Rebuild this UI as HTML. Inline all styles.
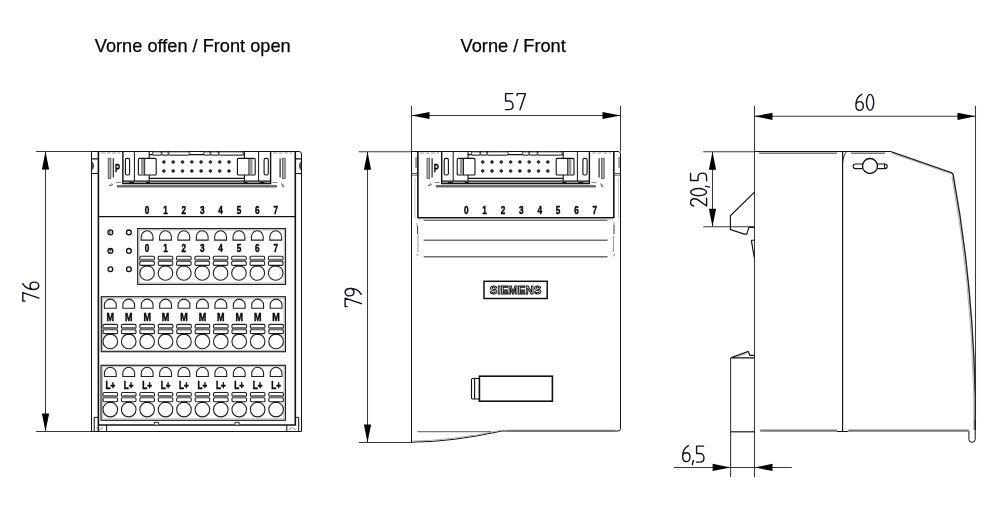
<!DOCTYPE html>
<html><head><meta charset="utf-8"><style>
html,body{margin:0;padding:0;background:#fff;width:1000px;height:524px;overflow:hidden}
svg{display:block;will-change:transform}
text{font-family:"Liberation Sans",sans-serif}
</style></head><body>
<svg width="1000" height="524" viewBox="0 0 1000 524">
<defs>
<path id="g5" d="M7.6,0.6 H0.6 V8 H3.8 C6.2,8 8,9.9 8,12.4 C8,15 6.2,16.6 3.8,16.6 H0.4"/>
<path id="g7" d="M0.6,2.6 V0.6 H9 L3.5,16.8"/>
<path id="g6" d="M6.4,0.6 C3,2.5 0.6,6 0.6,11 C0.6,14.5 2.2,16.6 4.3,16.6 C6.5,16.6 8,14.6 8,12.2 C8,9.6 6.5,7.8 4.3,7.8 C2.5,7.8 1.2,8.8 0.6,10.5"/>
<ellipse id="g0" cx="4.1" cy="8.6" rx="3.6" ry="8"/>
<path id="g9" d="M1.6,16.6 C5,14.7 7.4,11.2 7.4,6.2 C7.4,2.7 5.8,0.6 3.7,0.6 C1.5,0.6 0,2.6 0,5 C0,7.6 1.5,9.4 3.7,9.4 C5.5,9.4 6.8,8.4 7.4,6.7"/>
<path id="g2" d="M0.6,3.5 C1.2,1.6 2.5,0.6 4.2,0.6 C6.3,0.6 7.8,2.2 7.8,4.6 C7.8,6.6 7,8 5.5,9.8 L0.6,16.6 H8.4"/>
<path id="gc" d="M1.9,15.5 L0.9,19.5"/>
<path id="arr" d="M0,0 L18,-3.6 L18,3.6 Z"/>
<linearGradient id="bar" x1="0" y1="0" x2="0" y2="1">
 <stop offset="0" stop-color="#fff"/><stop offset="0.35" stop-color="#ddd"/><stop offset="0.5" stop-color="#666"/><stop offset="0.65" stop-color="#ddd"/><stop offset="1" stop-color="#fff"/>
</linearGradient>
</defs>

<text x="94.8" y="52" font-size="18.2" fill="#000" stroke="#000" stroke-width="0.25">Vorne offen / Front open</text>
<text x="460.6" y="51.8" font-size="18.2" fill="#000" stroke="#000" stroke-width="0.25">Vorne / Front</text>

<g fill="none" stroke="#111122" stroke-width="1.4" stroke-linecap="round" stroke-linejoin="round">
  <use href="#g5" x="505" y="93"/><use href="#g7" x="516.5" y="93"/>
  <use href="#g6" x="855.3" y="93.8"/><use href="#g0" x="866" y="93.8"/>
  <use href="#g6" x="682" y="445"/><use href="#gc" x="691.5" y="445"/><use href="#g5" x="696" y="445.5"/>
  <g transform="translate(344.5,307.2) rotate(-90)"><use href="#g7" x="0" y="0"/><use href="#g9" x="11.3" y="0"/></g>
  <g transform="translate(22.2,301.6) rotate(-90)"><use href="#g7" x="0" y="0"/><use href="#g6" x="11.5" y="0"/></g>
  <g transform="translate(690,206.6) rotate(-90)"><use href="#g2" x="0" y="0"/><use href="#g0" x="10.4" y="0"/><use href="#gc" x="18.6" y="0"/><use href="#g5" x="25.5" y="0"/></g>
</g>

<g stroke="#3a3a3a" stroke-width="1.05" fill="none">
  <path d="M36,151.5 H92 M36,431.5 H92 M45.5,151.5 V431.5"/>
  <path d="M358.8,151.8 H412 M358.8,442.4 H412 M367.5,151.8 V442.4"/>
  <path d="M411.5,106 V151.5 M620.5,106 V151.5 M411.5,115.5 H620.5"/>
  <path d="M754.5,106 V477 M975.5,106 V420 M754.5,116.3 H975.5"/>
  <path d="M703.3,151.8 H754.5 M703.3,226.8 H754.5 M712.5,151.8 V226.8"/>
  <path d="M674,467.4 H791.8 M730.6,357.9 V477"/>
</g>
<g fill="#000">
  <use href="#arr" transform="translate(45.5,151.5) rotate(90)"/>
  <use href="#arr" transform="translate(45.5,431.5) rotate(-90)"/>
  <use href="#arr" transform="translate(367.5,151.8) rotate(90)"/>
  <use href="#arr" transform="translate(367.5,442.4) rotate(-90)"/>
  <use href="#arr" transform="translate(411.5,115.5)"/>
  <use href="#arr" transform="translate(620.5,115.5) rotate(180)"/>
  <use href="#arr" transform="translate(754.5,116.3)"/>
  <use href="#arr" transform="translate(975.5,116.3) rotate(180)"/>
  <use href="#arr" transform="translate(712.5,151.8) rotate(90)"/>
  <use href="#arr" transform="translate(712.5,226.8) rotate(-90)"/>
  <use href="#arr" transform="translate(730.6,467.4) rotate(180)"/>
  <use href="#arr" transform="translate(754.5,467.4)"/>
</g>

<g id="leftview">
<g fill="none" stroke="#111" stroke-width="1">
<path d="M91.5,151.5 H299 Q301.5,151.5 301.5,154 V431.5 H91.5 Z"/>
<path d="M98.4,151.5 V431" stroke-width="1.6"/>
<path d="M295.3,151.5 V425.5" stroke-width="1.6"/>
<path d="M98.4,216.6 H295.3" stroke-width="1.3"/>
<path d="M91.5,158.8 H98.4 M91.5,173.5 H98.4 M295.3,158.8 H301.5 M295.3,173.5 H301.5" stroke-width="1.2"/>
<path d="M91.5,161.2 Q95.5,166 91.5,170.6 Z M301.5,161.2 Q297.5,166 301.5,170.6 Z" fill="#555" stroke-width="0.8"/>
<path d="M98.4,425.1 H295.3" stroke-width="1.5"/>
<path d="M94.2,417.4 H98.4 M94.2,417.4 V431.5 M106.6,425.1 V431.5 M298.7,417.4 H295.3 M298.7,417.4 V431.5 M286.8,425.1 V431.5"/>
<path d="M96,428.5 L99,426.5 M100.5,430 L103,427 M289,430 L292,427 M293,428 L296,430" stroke="#777" stroke-width="0.8"/>
<path d="M154.4,424.4 V422.3 H158.6 V424.4 M235,424.4 V422.3 H239.2 V424.4" stroke-width="0.9" fill="#fff"/>
</g>
<g fill="none" stroke="#111" stroke-width="1.1">
<path d="M122.9,151.5 V183.5 H270.6 V151.5" stroke-width="1.4"/>
<path d="M122.9,181.1 H270.6" stroke-width="1.3"/>
<path d="M123.5,182.5 H270" stroke="#999" stroke-width="1"/>
<path d="M129,182.5 H134 M146,182.5 H150 M243.5,182.5 H247.5 M259.5,182.5 H264.5" stroke="#111" stroke-width="1.1"/>
<path d="M134.4,151.5 V181.1 M258.6,151.5 V181.1" stroke-width="1"/>
<rect x="125.4" y="158.4" width="4.2" height="16.6" rx="1.5"/>
<rect x="264.1" y="158.4" width="4.2" height="16.6" rx="1.5"/>
<path d="M149.2,151.5 V154.6 H244.4 V151.5 M149.2,154.6 V158.4 M244.4,154.6 V158.4 M149.2,175 V178.4 H244.4 V175 M149.2,178.4 V181.1 M244.4,178.4 V181.1"/>
<rect x="138.4" y="158.4" width="17.8" height="16.6" rx="1"/>
<rect x="237.4" y="158.4" width="17.8" height="16.6" rx="1"/>
<path d="M144.6,158.4 V175 M249,158.4 V175"/>
</g>
<g fill="#999"><rect x="141" y="159" width="3.3" height="15.4"/><rect x="249.3" y="159" width="3.3" height="15.4"/></g>
<g fill="#fff" stroke="#222" stroke-width="1">
<rect x="152.5" y="151.8" width="9" height="3.3" rx="1.6"/>
<rect x="161.5" y="151.8" width="6.9" height="3.3" rx="1.6"/>
<rect x="168.4" y="151.8" width="21.1" height="3.3" rx="1.6"/>
<rect x="203.6" y="151.8" width="6.8" height="3.3" rx="1.6"/>
<rect x="210.4" y="151.8" width="8.3" height="3.3" rx="1.6"/>
<rect x="218.7" y="151.8" width="24.7" height="3.3" rx="1.6"/>
</g>
<g fill="#444" stroke="#111" stroke-width="1">
<rect x="162.7" y="160.8" width="2.4" height="2.4" rx="0.9"/>
<rect x="162.7" y="169.8" width="2.4" height="2.4" rx="0.9"/>
<rect x="172" y="160.8" width="2.4" height="2.4" rx="0.9"/>
<rect x="172" y="169.8" width="2.4" height="2.4" rx="0.9"/>
<rect x="181.3" y="160.8" width="2.4" height="2.4" rx="0.9"/>
<rect x="181.3" y="169.8" width="2.4" height="2.4" rx="0.9"/>
<rect x="190.6" y="160.8" width="2.4" height="2.4" rx="0.9"/>
<rect x="190.6" y="169.8" width="2.4" height="2.4" rx="0.9"/>
<rect x="199.9" y="160.8" width="2.4" height="2.4" rx="0.9"/>
<rect x="199.9" y="169.8" width="2.4" height="2.4" rx="0.9"/>
<rect x="209.2" y="160.8" width="2.4" height="2.4" rx="0.9"/>
<rect x="209.2" y="169.8" width="2.4" height="2.4" rx="0.9"/>
<rect x="218.5" y="160.8" width="2.4" height="2.4" rx="0.9"/>
<rect x="218.5" y="169.8" width="2.4" height="2.4" rx="0.9"/>
<rect x="227.8" y="160.8" width="2.4" height="2.4" rx="0.9"/>
<rect x="227.8" y="169.8" width="2.4" height="2.4" rx="0.9"/>
</g>
<path d="M117,186.3 H277" stroke="#6a6a6a" stroke-width="2.4" fill="none"/>
<g transform="translate(0,0)">
<rect x="108.2" y="158.3" width="2.7" height="20.2" fill="#aaa" stroke="#555" stroke-width="0.8"/>
<path d="M113.3,158.3 V177.5 M280.1,158.3 V177.5" stroke="#111" stroke-width="1.1" fill="none"/>
<rect x="282.5" y="158.3" width="2.7" height="20.2" fill="#aaa" stroke="#555" stroke-width="0.8"/>
<path d="M101.2,153 H120.2 M273.2,153 H292.2" stroke="#999" stroke-width="1" stroke-dasharray="4,1.5" fill="none"/>
<path d="M115.9,182.5 H120.9 M272.5,182.5 H277.5" stroke="#888" stroke-width="1" fill="none"/>
<path d="M109.2,186 l2.5,-2.5 l1.2,1.2 z M281.7,183.5 l2.5,2.5 l-1.2,1.2 z" stroke="#555" stroke-width="0.8" fill="none"/>
<g transform="translate(114.9,172.4) scale(0.72,1)"><text x="0" y="0" font-size="10.5" font-weight="bold" fill="#000" stroke="#000" stroke-width="0.4">P</text></g>
</g>
<g font-size="10" font-weight="bold" fill="#000" stroke="#000" stroke-width="0.4" text-anchor="middle">
<text transform="translate(147.1,213.8) scale(0.82,1)">0</text>
<text transform="translate(165.47,213.8) scale(0.82,1)">1</text>
<text transform="translate(183.84,213.8) scale(0.82,1)">2</text>
<text transform="translate(202.21,213.8) scale(0.82,1)">3</text>
<text transform="translate(220.58,213.8) scale(0.82,1)">4</text>
<text transform="translate(238.95,213.8) scale(0.82,1)">5</text>
<text transform="translate(257.32,213.8) scale(0.82,1)">6</text>
<text transform="translate(275.69,213.8) scale(0.82,1)">7</text>
</g>
<g fill="#fff" stroke="#111" stroke-width="1.3">
<circle cx="110.4" cy="232.4" r="2.4"/>
<circle cx="110.4" cy="250.9" r="2.4"/>
<circle cx="110.4" cy="269.2" r="2.4"/>
<circle cx="128.9" cy="232.4" r="2.4"/>
<circle cx="128.9" cy="250.9" r="2.4"/>
<circle cx="128.9" cy="269.2" r="2.4"/>
</g>
<circle cx="110.4" cy="232.4" r="1.8" fill="#888"/>
<path d="M111.3,230.8 V234" stroke="#fff" stroke-width="0.7"/>
<path d="M110.4,250.9 L108.4,249.6 A2.2,2.2 0 0 1 112.2,250 Z M110.4,250.9 L108.6,252.4 A2.2,2.2 0 0 0 110.2,253.1 Z" fill="#333"/>
<rect x="137.7" y="228.6" width="147.8" height="55.8" fill="none" stroke="#222" stroke-width="1.2"/>
<rect x="139.1" y="230" width="145" height="53" fill="none" stroke="#aaa" stroke-width="0.8"/>
<g fill="none" stroke="#222" stroke-width="1.1">
<path d="M141.2,240.1 V236.7 A5.9,5.9 0 0 1 153,236.7 V240.1 Z"/>
<rect x="139.8" y="256.2" width="14.6" height="4" rx="1.2"/>
<rect x="139.8" y="261.4" width="14.6" height="4" rx="1.2"/>
<circle cx="147.1" cy="273" r="7.3"/>
<path d="M159.57,240.1 V236.7 A5.9,5.9 0 0 1 171.37,236.7 V240.1 Z"/>
<rect x="158.17" y="256.2" width="14.6" height="4" rx="1.2"/>
<rect x="158.17" y="261.4" width="14.6" height="4" rx="1.2"/>
<circle cx="165.47" cy="273" r="7.3"/>
<path d="M177.94,240.1 V236.7 A5.9,5.9 0 0 1 189.74,236.7 V240.1 Z"/>
<rect x="176.54" y="256.2" width="14.6" height="4" rx="1.2"/>
<rect x="176.54" y="261.4" width="14.6" height="4" rx="1.2"/>
<circle cx="183.84" cy="273" r="7.3"/>
<path d="M196.31,240.1 V236.7 A5.9,5.9 0 0 1 208.11,236.7 V240.1 Z"/>
<rect x="194.91" y="256.2" width="14.6" height="4" rx="1.2"/>
<rect x="194.91" y="261.4" width="14.6" height="4" rx="1.2"/>
<circle cx="202.21" cy="273" r="7.3"/>
<path d="M214.68,240.1 V236.7 A5.9,5.9 0 0 1 226.48,236.7 V240.1 Z"/>
<rect x="213.28" y="256.2" width="14.6" height="4" rx="1.2"/>
<rect x="213.28" y="261.4" width="14.6" height="4" rx="1.2"/>
<circle cx="220.58" cy="273" r="7.3"/>
<path d="M233.05,240.1 V236.7 A5.9,5.9 0 0 1 244.85,236.7 V240.1 Z"/>
<rect x="231.65" y="256.2" width="14.6" height="4" rx="1.2"/>
<rect x="231.65" y="261.4" width="14.6" height="4" rx="1.2"/>
<circle cx="238.95" cy="273" r="7.3"/>
<path d="M251.42,240.1 V236.7 A5.9,5.9 0 0 1 263.22,236.7 V240.1 Z"/>
<rect x="250.02" y="256.2" width="14.6" height="4" rx="1.2"/>
<rect x="250.02" y="261.4" width="14.6" height="4" rx="1.2"/>
<circle cx="257.32" cy="273" r="7.3"/>
<path d="M269.79,240.1 V236.7 A5.9,5.9 0 0 1 281.59,236.7 V240.1 Z"/>
<rect x="268.39" y="256.2" width="14.6" height="4" rx="1.2"/>
<rect x="268.39" y="261.4" width="14.6" height="4" rx="1.2"/>
<circle cx="275.69" cy="273" r="7.3"/>
</g>
<g fill="#6e6e6e">
<rect x="140.6" y="258.7" width="13" height="3" rx="0.8"/>
<rect x="144.1" y="265.3" width="6" height="1.2" fill="#111"/>
<rect x="158.97" y="258.7" width="13" height="3" rx="0.8"/>
<rect x="162.47" y="265.3" width="6" height="1.2" fill="#111"/>
<rect x="177.34" y="258.7" width="13" height="3" rx="0.8"/>
<rect x="180.84" y="265.3" width="6" height="1.2" fill="#111"/>
<rect x="195.71" y="258.7" width="13" height="3" rx="0.8"/>
<rect x="199.21" y="265.3" width="6" height="1.2" fill="#111"/>
<rect x="214.08" y="258.7" width="13" height="3" rx="0.8"/>
<rect x="217.58" y="265.3" width="6" height="1.2" fill="#111"/>
<rect x="232.45" y="258.7" width="13" height="3" rx="0.8"/>
<rect x="235.95" y="265.3" width="6" height="1.2" fill="#111"/>
<rect x="250.82" y="258.7" width="13" height="3" rx="0.8"/>
<rect x="254.32" y="265.3" width="6" height="1.2" fill="#111"/>
<rect x="269.19" y="258.7" width="13" height="3" rx="0.8"/>
<rect x="272.69" y="265.3" width="6" height="1.2" fill="#111"/>
</g>
<g font-size="10" font-weight="bold" fill="#000" stroke="#000" stroke-width="0.4" text-anchor="middle">
<text transform="translate(147.1,252.2) scale(0.82,1)">0</text>
<text transform="translate(165.47,252.2) scale(0.82,1)">1</text>
<text transform="translate(183.84,252.2) scale(0.82,1)">2</text>
<text transform="translate(202.21,252.2) scale(0.82,1)">3</text>
<text transform="translate(220.58,252.2) scale(0.82,1)">4</text>
<text transform="translate(238.95,252.2) scale(0.82,1)">5</text>
<text transform="translate(257.32,252.2) scale(0.82,1)">6</text>
<text transform="translate(275.69,252.2) scale(0.82,1)">7</text>
</g>
<rect x="101.3" y="296.7" width="184.1" height="55" fill="none" stroke="#222" stroke-width="1.2"/>
<rect x="102.7" y="298.1" width="181.3" height="52.2" fill="none" stroke="#aaa" stroke-width="0.8"/>
<g fill="none" stroke="#222" stroke-width="1.1">
<path d="M104.4,308.3 V305 A5.9,5.9 0 0 1 116.2,305 V308.3 Z"/>
<rect x="103" y="324.4" width="14.6" height="4" rx="1.2"/>
<rect x="103" y="329.6" width="14.6" height="4" rx="1.2"/>
<circle cx="110.3" cy="341.4" r="7.3"/>
<path d="M122.82,308.3 V305 A5.9,5.9 0 0 1 134.62,305 V308.3 Z"/>
<rect x="121.42" y="324.4" width="14.6" height="4" rx="1.2"/>
<rect x="121.42" y="329.6" width="14.6" height="4" rx="1.2"/>
<circle cx="128.72" cy="341.4" r="7.3"/>
<path d="M141.24,308.3 V305 A5.9,5.9 0 0 1 153.04,305 V308.3 Z"/>
<rect x="139.84" y="324.4" width="14.6" height="4" rx="1.2"/>
<rect x="139.84" y="329.6" width="14.6" height="4" rx="1.2"/>
<circle cx="147.14" cy="341.4" r="7.3"/>
<path d="M159.66,308.3 V305 A5.9,5.9 0 0 1 171.46,305 V308.3 Z"/>
<rect x="158.26" y="324.4" width="14.6" height="4" rx="1.2"/>
<rect x="158.26" y="329.6" width="14.6" height="4" rx="1.2"/>
<circle cx="165.56" cy="341.4" r="7.3"/>
<path d="M178.08,308.3 V305 A5.9,5.9 0 0 1 189.88,305 V308.3 Z"/>
<rect x="176.68" y="324.4" width="14.6" height="4" rx="1.2"/>
<rect x="176.68" y="329.6" width="14.6" height="4" rx="1.2"/>
<circle cx="183.98" cy="341.4" r="7.3"/>
<path d="M196.5,308.3 V305 A5.9,5.9 0 0 1 208.3,305 V308.3 Z"/>
<rect x="195.1" y="324.4" width="14.6" height="4" rx="1.2"/>
<rect x="195.1" y="329.6" width="14.6" height="4" rx="1.2"/>
<circle cx="202.4" cy="341.4" r="7.3"/>
<path d="M214.92,308.3 V305 A5.9,5.9 0 0 1 226.72,305 V308.3 Z"/>
<rect x="213.52" y="324.4" width="14.6" height="4" rx="1.2"/>
<rect x="213.52" y="329.6" width="14.6" height="4" rx="1.2"/>
<circle cx="220.82" cy="341.4" r="7.3"/>
<path d="M233.34,308.3 V305 A5.9,5.9 0 0 1 245.14,305 V308.3 Z"/>
<rect x="231.94" y="324.4" width="14.6" height="4" rx="1.2"/>
<rect x="231.94" y="329.6" width="14.6" height="4" rx="1.2"/>
<circle cx="239.24" cy="341.4" r="7.3"/>
<path d="M251.76,308.3 V305 A5.9,5.9 0 0 1 263.56,305 V308.3 Z"/>
<rect x="250.36" y="324.4" width="14.6" height="4" rx="1.2"/>
<rect x="250.36" y="329.6" width="14.6" height="4" rx="1.2"/>
<circle cx="257.66" cy="341.4" r="7.3"/>
<path d="M270.18,308.3 V305 A5.9,5.9 0 0 1 281.98,305 V308.3 Z"/>
<rect x="268.78" y="324.4" width="14.6" height="4" rx="1.2"/>
<rect x="268.78" y="329.6" width="14.6" height="4" rx="1.2"/>
<circle cx="276.08" cy="341.4" r="7.3"/>
</g>
<g fill="#6e6e6e">
<rect x="103.8" y="326.9" width="13" height="3" rx="0.8"/>
<rect x="107.3" y="333.5" width="6" height="1.2" fill="#111"/>
<rect x="122.22" y="326.9" width="13" height="3" rx="0.8"/>
<rect x="125.72" y="333.5" width="6" height="1.2" fill="#111"/>
<rect x="140.64" y="326.9" width="13" height="3" rx="0.8"/>
<rect x="144.14" y="333.5" width="6" height="1.2" fill="#111"/>
<rect x="159.06" y="326.9" width="13" height="3" rx="0.8"/>
<rect x="162.56" y="333.5" width="6" height="1.2" fill="#111"/>
<rect x="177.48" y="326.9" width="13" height="3" rx="0.8"/>
<rect x="180.98" y="333.5" width="6" height="1.2" fill="#111"/>
<rect x="195.9" y="326.9" width="13" height="3" rx="0.8"/>
<rect x="199.4" y="333.5" width="6" height="1.2" fill="#111"/>
<rect x="214.32" y="326.9" width="13" height="3" rx="0.8"/>
<rect x="217.82" y="333.5" width="6" height="1.2" fill="#111"/>
<rect x="232.74" y="326.9" width="13" height="3" rx="0.8"/>
<rect x="236.24" y="333.5" width="6" height="1.2" fill="#111"/>
<rect x="251.16" y="326.9" width="13" height="3" rx="0.8"/>
<rect x="254.66" y="333.5" width="6" height="1.2" fill="#111"/>
<rect x="269.58" y="326.9" width="13" height="3" rx="0.8"/>
<rect x="273.08" y="333.5" width="6" height="1.2" fill="#111"/>
</g>
<g font-size="10" font-weight="bold" fill="#000" stroke="#000" stroke-width="0.4" text-anchor="middle">
<text transform="translate(110.3,321) scale(0.9,1)">M</text>
<text transform="translate(128.72,321) scale(0.9,1)">M</text>
<text transform="translate(147.14,321) scale(0.9,1)">M</text>
<text transform="translate(165.56,321) scale(0.9,1)">M</text>
<text transform="translate(183.98,321) scale(0.9,1)">M</text>
<text transform="translate(202.4,321) scale(0.9,1)">M</text>
<text transform="translate(220.82,321) scale(0.9,1)">M</text>
<text transform="translate(239.24,321) scale(0.9,1)">M</text>
<text transform="translate(257.66,321) scale(0.9,1)">M</text>
<text transform="translate(276.08,321) scale(0.9,1)">M</text>
</g>
<rect x="101" y="365.3" width="184.4" height="55" fill="none" stroke="#222" stroke-width="1.2"/>
<rect x="102.4" y="366.7" width="181.6" height="52.2" fill="none" stroke="#aaa" stroke-width="0.8"/>
<g fill="none" stroke="#222" stroke-width="1.1">
<path d="M104.4,376.5 V373.2 A5.9,5.9 0 0 1 116.2,373.2 V376.5 Z"/>
<rect x="103" y="392.5" width="14.6" height="4" rx="1.2"/>
<rect x="103" y="397.7" width="14.6" height="4" rx="1.2"/>
<circle cx="110.3" cy="409.6" r="7.3"/>
<path d="M122.82,376.5 V373.2 A5.9,5.9 0 0 1 134.62,373.2 V376.5 Z"/>
<rect x="121.42" y="392.5" width="14.6" height="4" rx="1.2"/>
<rect x="121.42" y="397.7" width="14.6" height="4" rx="1.2"/>
<circle cx="128.72" cy="409.6" r="7.3"/>
<path d="M141.24,376.5 V373.2 A5.9,5.9 0 0 1 153.04,373.2 V376.5 Z"/>
<rect x="139.84" y="392.5" width="14.6" height="4" rx="1.2"/>
<rect x="139.84" y="397.7" width="14.6" height="4" rx="1.2"/>
<circle cx="147.14" cy="409.6" r="7.3"/>
<path d="M159.66,376.5 V373.2 A5.9,5.9 0 0 1 171.46,373.2 V376.5 Z"/>
<rect x="158.26" y="392.5" width="14.6" height="4" rx="1.2"/>
<rect x="158.26" y="397.7" width="14.6" height="4" rx="1.2"/>
<circle cx="165.56" cy="409.6" r="7.3"/>
<path d="M178.08,376.5 V373.2 A5.9,5.9 0 0 1 189.88,373.2 V376.5 Z"/>
<rect x="176.68" y="392.5" width="14.6" height="4" rx="1.2"/>
<rect x="176.68" y="397.7" width="14.6" height="4" rx="1.2"/>
<circle cx="183.98" cy="409.6" r="7.3"/>
<path d="M196.5,376.5 V373.2 A5.9,5.9 0 0 1 208.3,373.2 V376.5 Z"/>
<rect x="195.1" y="392.5" width="14.6" height="4" rx="1.2"/>
<rect x="195.1" y="397.7" width="14.6" height="4" rx="1.2"/>
<circle cx="202.4" cy="409.6" r="7.3"/>
<path d="M214.92,376.5 V373.2 A5.9,5.9 0 0 1 226.72,373.2 V376.5 Z"/>
<rect x="213.52" y="392.5" width="14.6" height="4" rx="1.2"/>
<rect x="213.52" y="397.7" width="14.6" height="4" rx="1.2"/>
<circle cx="220.82" cy="409.6" r="7.3"/>
<path d="M233.34,376.5 V373.2 A5.9,5.9 0 0 1 245.14,373.2 V376.5 Z"/>
<rect x="231.94" y="392.5" width="14.6" height="4" rx="1.2"/>
<rect x="231.94" y="397.7" width="14.6" height="4" rx="1.2"/>
<circle cx="239.24" cy="409.6" r="7.3"/>
<path d="M251.76,376.5 V373.2 A5.9,5.9 0 0 1 263.56,373.2 V376.5 Z"/>
<rect x="250.36" y="392.5" width="14.6" height="4" rx="1.2"/>
<rect x="250.36" y="397.7" width="14.6" height="4" rx="1.2"/>
<circle cx="257.66" cy="409.6" r="7.3"/>
<path d="M270.18,376.5 V373.2 A5.9,5.9 0 0 1 281.98,373.2 V376.5 Z"/>
<rect x="268.78" y="392.5" width="14.6" height="4" rx="1.2"/>
<rect x="268.78" y="397.7" width="14.6" height="4" rx="1.2"/>
<circle cx="276.08" cy="409.6" r="7.3"/>
</g>
<g fill="#6e6e6e">
<rect x="103.8" y="395" width="13" height="3" rx="0.8"/>
<rect x="107.3" y="401.6" width="6" height="1.2" fill="#111"/>
<rect x="122.22" y="395" width="13" height="3" rx="0.8"/>
<rect x="125.72" y="401.6" width="6" height="1.2" fill="#111"/>
<rect x="140.64" y="395" width="13" height="3" rx="0.8"/>
<rect x="144.14" y="401.6" width="6" height="1.2" fill="#111"/>
<rect x="159.06" y="395" width="13" height="3" rx="0.8"/>
<rect x="162.56" y="401.6" width="6" height="1.2" fill="#111"/>
<rect x="177.48" y="395" width="13" height="3" rx="0.8"/>
<rect x="180.98" y="401.6" width="6" height="1.2" fill="#111"/>
<rect x="195.9" y="395" width="13" height="3" rx="0.8"/>
<rect x="199.4" y="401.6" width="6" height="1.2" fill="#111"/>
<rect x="214.32" y="395" width="13" height="3" rx="0.8"/>
<rect x="217.82" y="401.6" width="6" height="1.2" fill="#111"/>
<rect x="232.74" y="395" width="13" height="3" rx="0.8"/>
<rect x="236.24" y="401.6" width="6" height="1.2" fill="#111"/>
<rect x="251.16" y="395" width="13" height="3" rx="0.8"/>
<rect x="254.66" y="401.6" width="6" height="1.2" fill="#111"/>
<rect x="269.58" y="395" width="13" height="3" rx="0.8"/>
<rect x="273.08" y="401.6" width="6" height="1.2" fill="#111"/>
</g>
<g font-size="10" font-weight="bold" fill="#000" stroke="#000" stroke-width="0.4" text-anchor="middle">
<text transform="translate(110.3,388.7) scale(0.82,1)">L+</text>
<text transform="translate(128.72,388.7) scale(0.82,1)">L+</text>
<text transform="translate(147.14,388.7) scale(0.82,1)">L+</text>
<text transform="translate(165.56,388.7) scale(0.82,1)">L+</text>
<text transform="translate(183.98,388.7) scale(0.82,1)">L+</text>
<text transform="translate(202.4,388.7) scale(0.82,1)">L+</text>
<text transform="translate(220.82,388.7) scale(0.82,1)">L+</text>
<text transform="translate(239.24,388.7) scale(0.82,1)">L+</text>
<text transform="translate(257.66,388.7) scale(0.82,1)">L+</text>
<text transform="translate(276.08,388.7) scale(0.82,1)">L+</text>
</g>
</g>
<g id="midview">
<g fill="none" stroke="#111" stroke-width="1">
<path d="M411.5,151.5 V442.4 M411.5,151.5 H618 Q620.5,151.5 620.5,154 V428.5 Q620.5,431 618,431 H614 M502,431 H508"/>
<path d="M417.9,151.5 V218" stroke-width="1.6"/>
<path d="M613.8,151.5 V218" stroke-width="1.6"/>
<path d="M417.9,217.8 H613.8" stroke-width="1.5"/>
<path d="M411.5,442.2 Q452,442 502,431"/>
<path d="M414,441 Q452,440.5 500,430.5" stroke="#999" stroke-width="0.8"/>
</g>
<path d="M419,218.9 H613" stroke="#999" stroke-width="0.8" fill="none"/>
<path d="M423.7,220.4 H607.5 M423.7,240.2 H607.5 M423.7,256.7 H607.5" stroke="#707070" stroke-width="1.4" fill="none"/>
<path d="M417.6,226 V234 M614,225 V234" stroke="#222" stroke-width="0.9" fill="none"/>
<path d="M418,235 V252 M417,223 V226 M613.5,236 V252 M614,222 V225" stroke="#999" stroke-width="1" fill="none"/>
<path d="M416.5,254 L418.5,256 M615,254 L613,256.5" stroke="#666" stroke-width="0.8" fill="none"/>
<path d="M417.4,431.6 H491.2" stroke="#777" stroke-width="1.3" fill="none"/>
<path d="M507,430.8 H615" stroke="#777" stroke-width="2.2" fill="none"/>
<g transform="translate(318.8,0)"><g fill="none" stroke="#111" stroke-width="1.1">
<path d="M122.9,151.5 V183.5 H270.6 V151.5" stroke-width="1.4"/>
<path d="M122.9,181.1 H270.6" stroke-width="1.3"/>
<path d="M123.5,182.5 H270" stroke="#999" stroke-width="1"/>
<path d="M129,182.5 H134 M146,182.5 H150 M243.5,182.5 H247.5 M259.5,182.5 H264.5" stroke="#111" stroke-width="1.1"/>
<path d="M134.4,151.5 V181.1 M258.6,151.5 V181.1" stroke-width="1"/>
<rect x="125.4" y="158.4" width="4.2" height="16.6" rx="1.5"/>
<rect x="264.1" y="158.4" width="4.2" height="16.6" rx="1.5"/>
<path d="M149.2,151.5 V154.6 H244.4 V151.5 M149.2,154.6 V158.4 M244.4,154.6 V158.4 M149.2,175 V178.4 H244.4 V175 M149.2,178.4 V181.1 M244.4,178.4 V181.1"/>
<rect x="138.4" y="158.4" width="17.8" height="16.6" rx="1"/>
<rect x="237.4" y="158.4" width="17.8" height="16.6" rx="1"/>
<path d="M144.6,158.4 V175 M249,158.4 V175"/>
</g>
<g fill="#999"><rect x="141" y="159" width="3.3" height="15.4"/><rect x="249.3" y="159" width="3.3" height="15.4"/></g>
<g fill="#fff" stroke="#222" stroke-width="1">
<rect x="152.5" y="151.8" width="9" height="3.3" rx="1.6"/>
<rect x="161.5" y="151.8" width="6.9" height="3.3" rx="1.6"/>
<rect x="168.4" y="151.8" width="21.1" height="3.3" rx="1.6"/>
<rect x="203.6" y="151.8" width="6.8" height="3.3" rx="1.6"/>
<rect x="210.4" y="151.8" width="8.3" height="3.3" rx="1.6"/>
<rect x="218.7" y="151.8" width="24.7" height="3.3" rx="1.6"/>
</g>
<g fill="#444" stroke="#111" stroke-width="1">
<rect x="162.7" y="160.8" width="2.4" height="2.4" rx="0.9"/>
<rect x="162.7" y="169.8" width="2.4" height="2.4" rx="0.9"/>
<rect x="172" y="160.8" width="2.4" height="2.4" rx="0.9"/>
<rect x="172" y="169.8" width="2.4" height="2.4" rx="0.9"/>
<rect x="181.3" y="160.8" width="2.4" height="2.4" rx="0.9"/>
<rect x="181.3" y="169.8" width="2.4" height="2.4" rx="0.9"/>
<rect x="190.6" y="160.8" width="2.4" height="2.4" rx="0.9"/>
<rect x="190.6" y="169.8" width="2.4" height="2.4" rx="0.9"/>
<rect x="199.9" y="160.8" width="2.4" height="2.4" rx="0.9"/>
<rect x="199.9" y="169.8" width="2.4" height="2.4" rx="0.9"/>
<rect x="209.2" y="160.8" width="2.4" height="2.4" rx="0.9"/>
<rect x="209.2" y="169.8" width="2.4" height="2.4" rx="0.9"/>
<rect x="218.5" y="160.8" width="2.4" height="2.4" rx="0.9"/>
<rect x="218.5" y="169.8" width="2.4" height="2.4" rx="0.9"/>
<rect x="227.8" y="160.8" width="2.4" height="2.4" rx="0.9"/>
<rect x="227.8" y="169.8" width="2.4" height="2.4" rx="0.9"/>
</g>
<path d="M117,186.3 H277" stroke="#6a6a6a" stroke-width="2.4" fill="none"/></g>
<g transform="translate(0,0)">
<rect x="427" y="158.3" width="2.7" height="20.2" fill="#aaa" stroke="#555" stroke-width="0.8"/>
<path d="M432.1,158.3 V177.5 M599.1,158.3 V177.5" stroke="#111" stroke-width="1.1" fill="none"/>
<rect x="601.5" y="158.3" width="2.7" height="20.2" fill="#aaa" stroke="#555" stroke-width="0.8"/>
<path d="M420,153 H439 M592.2,153 H611.2" stroke="#999" stroke-width="1" stroke-dasharray="4,1.5" fill="none"/>
<path d="M434.7,182.5 H439.7 M591.5,182.5 H596.5" stroke="#888" stroke-width="1" fill="none"/>
<path d="M428,186 l2.5,-2.5 l1.2,1.2 z M600.7,183.5 l2.5,2.5 l-1.2,1.2 z" stroke="#555" stroke-width="0.8" fill="none"/>
<g transform="translate(433.7,172.4) scale(0.72,1)"><text x="0" y="0" font-size="10.5" font-weight="bold" fill="#000" stroke="#000" stroke-width="0.4">P</text></g>
</g>
<g fill="#999"><rect x="415.2" y="157" width="1.8" height="11"/><rect x="618.2" y="157" width="1.8" height="11"/></g>
<path d="M411.5,173.5 H417.9 M411.5,175.2 H417.9 M613.8,173.5 H620.5 M613.8,175.2 H620.5" stroke="#333" stroke-width="0.8" fill="none"/>
<path d="M415,178 V218 M618.5,178 V218" stroke="#bbb" stroke-width="0.8" fill="none"/>
<g font-size="10" font-weight="bold" fill="#000" stroke="#000" stroke-width="0.4" text-anchor="middle">
<text transform="translate(466.2,213.6) scale(0.82,1)">0</text>
<text transform="translate(484.57,213.6) scale(0.82,1)">1</text>
<text transform="translate(502.94,213.6) scale(0.82,1)">2</text>
<text transform="translate(521.31,213.6) scale(0.82,1)">3</text>
<text transform="translate(539.68,213.6) scale(0.82,1)">4</text>
<text transform="translate(558.05,213.6) scale(0.82,1)">5</text>
<text transform="translate(576.42,213.6) scale(0.82,1)">6</text>
<text transform="translate(594.79,213.6) scale(0.82,1)">7</text>
</g>
<rect x="484" y="281.3" width="63.2" height="17.2" fill="none" stroke="#111" stroke-width="1.5"/>
<text x="515.6" y="294.3" font-family="Liberation Serif" font-size="11.6" font-weight="bold" fill="#eee" stroke="#000" stroke-width="0.85" text-anchor="middle" textLength="51.5" lengthAdjust="spacingAndGlyphs">SIEMENS</text>
<rect x="479.4" y="376.2" width="73" height="25" fill="none" stroke="#111" stroke-width="1.6"/>
<path d="M479,378.5 H472.6 Q471.5,378.5 471.5,379.6 V397.8 Q471.5,399 472.6,399 H479 M474.6,378.5 V399" fill="none" stroke="#111" stroke-width="1.15"/>
</g>
<g id="rightview" fill="none" stroke="#111" stroke-width="1.15">
<path d="M754.5,151.5 H891.5"/>
<path d="M842.6,151.5 V431"/>
<path d="M842.6,162.8 Q843.5,155 846.6,151.5" stroke-width="0.9"/>
<path d="M730.6,431.8 H754.5"/>
<path d="M754.4,192.2 L730.4,215.8 V229.5 L744.4,234.1 H746.7 L749,227.3 H754.4"/>
<path d="M751.3,240.2 H754.4 M751.3,240.2 L754.3,257.7"/>
<path d="M730.7,357.9 L748.2,351.5 L749.8,355.3 H754.5 M730.7,357.9 H754.5"/>
<path d="M737,356.8 L746.5,353.5" stroke="#888" stroke-width="0.7"/>
<path d="M891.5,151.9 L951.2,172.6 Q953.6,173.8 953.3,176 Q972.5,280 975.2,395 V430" stroke-width="1.4" stroke="#222"/>
<path d="M952,177 Q971,280 973.8,395 V430" stroke-width="0.8" stroke="#999"/>
<path d="M891.5,153.2 L950.5,173.6" stroke="#999" stroke-width="0.8"/>
<path d="M968.9,430.8 V439.5 Q968.9,442.3 972,442.3 Q975.2,442.3 975.2,439.5 V420" stroke-width="1"/>
<circle cx="870" cy="166" r="7.5" stroke-width="1.3"/>
<path d="M862.5,164 H855.4 Q853.2,164 853.2,166.3 Q853.2,168.6 855.4,168.6 H862.5 M877.5,164 H884.9 Q887.2,164 887.2,166.3 Q887.2,168.6 884.9,168.6 H877.5 M884.6,164 V168.6" stroke-width="1.1"/>
</g>
<path d="M759,153.2 H837 M851,153.2 H885" stroke="#777" stroke-width="1.4" fill="none"/>
<path d="M760.2,430.6 H836.8 M848.2,430.6 H968.7" stroke="#777" stroke-width="2.2" fill="none"/>
<path d="M836.8,431.5 H848.2" stroke="#111" stroke-width="1" fill="none"/>
</svg>
</body></html>
